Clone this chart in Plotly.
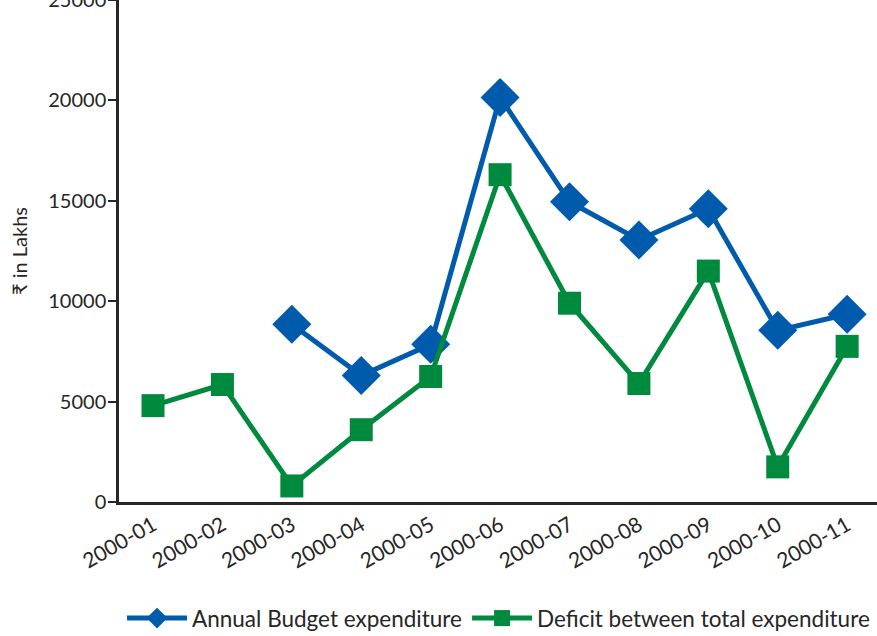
import plotly.graph_objects as go

categories = ["2000-01", "2000-02", "2000-03", "2000-04", "2000-05", "2000-06",
              "2000-07", "2000-08", "2000-09", "2000-10", "2000-11"]
annual_budget = [None, None, 8850, 6300, 7850, 20150, 14950, 13050, 14600, 8550, 9350]
deficit = [4800, 5850, 800, 3600, 6250, 16300, 9900, 5900, 11500, 1750, 7750]
y_ticks = [0, 5000, 10000, 15000, 20000, 25000]

BLUE = "#005BAC"
GREEN = "#008A3E"
FONT = "Lato"

fig = go.Figure()
fig.add_trace(go.Scatter(
    x=categories, y=annual_budget, mode="lines+markers",
    name="Annual Budget expenditure", connectgaps=False,
    line=dict(color=BLUE, width=5),
    marker=dict(symbol="diamond", size=30, color=BLUE),
))
fig.add_trace(go.Scatter(
    x=categories, y=deficit, mode="lines+markers",
    name="Deficit between total expenditure",
    line=dict(color=GREEN, width=5),
    marker=dict(symbol="square", size=23, color=GREEN),
))

fig.update_layout(
    width=877, height=636,
    margin=dict(l=119, r=0, t=0, b=134, autoexpand=False),
    plot_bgcolor="white", paper_bgcolor="white",
    font=dict(family=FONT, size=20, color="#262626"),
    showlegend=True,
    legend=dict(orientation="h", x=0.004, xanchor="left", y=-0.232, yanchor="middle",
                font=dict(family=FONT, size=22.5, color="#262626"),
                itemwidth=60, traceorder="normal"),
    xaxis=dict(
        type="category", range=[-0.49, 10.43], automargin=False,
        showline=True, linecolor="#262626", linewidth=2.5,
        ticks="", tickangle=-30, showgrid=False, zeroline=False,
        tickfont=dict(family=FONT, size=21, color="#262626"),
    ),
    yaxis=dict(
        range=[0, 25000], tickvals=y_ticks, ticktext=[str(v) for v in y_ticks],
        automargin=False, ticklabeloverflow="allow",
        showline=True, linecolor="#262626", linewidth=2.5,
        ticks="outside", ticklen=8, tickwidth=2, tickcolor="#262626",
        ticklabelstandoff=-2,
        showgrid=False, zeroline=False,
        tickfont=dict(family=FONT, size=20, color="#262626"),
        title=dict(text="₹ in Lakhs", font=dict(family=FONT, size=20, color="#262626"), standoff=16),
    ),
)

fig.write_html("out.html")
